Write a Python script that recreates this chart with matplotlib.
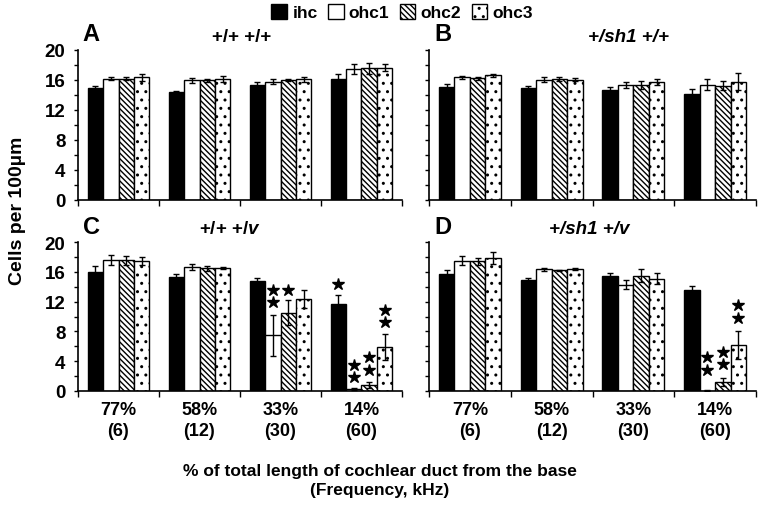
import matplotlib
matplotlib.use("Agg")
import matplotlib.pyplot as plt
from matplotlib.patches import Patch
from matplotlib.ticker import MultipleLocator
import numpy as np

plt.rcParams['font.family'] = ['Liberation Sans', 'DejaVu Sans']
plt.rcParams['font.weight'] = 'bold'
plt.rcParams['hatch.linewidth'] = 1.0
plt.rcParams['mathtext.fontset'] = 'custom'
plt.rcParams['mathtext.it'] = 'Liberation Sans:italic:bold'
plt.rcParams['mathtext.rm'] = 'Liberation Sans:bold'

groups = ['77%\n(6)', '58%\n(12)', '33%\n(30)', '14%\n(60)']
series = ['ihc', 'ohc1', 'ohc2', 'ohc3']

# Panel A  (+/+ +/+)
A_ihc = [15.0, 14.4, 15.3, 16.1];   A_ihc_err = [0.15, 0.2, 0.45, 0.75]
A_ohc1 = [16.2, 15.95, 15.8, 17.5]; A_ohc1_err = [0.25, 0.3, 0.3, 0.7]
A_ohc2 = [16.2, 15.95, 16.0, 17.55]; A_ohc2_err = [0.2, 0.2, 0.15, 0.7]
A_ohc3 = [16.35, 16.1, 16.1, 17.65]; A_ohc3_err = [0.45, 0.4, 0.3, 0.5]

# Panel B  (+/sh1 +/+)
B_ihc = [15.1, 15.0, 14.7, 14.1];   B_ihc_err = [0.35, 0.15, 0.4, 0.75]
B_ohc1 = [16.4, 16.05, 15.35, 15.4]; B_ohc1_err = [0.2, 0.3, 0.4, 0.7]
B_ohc2 = [16.25, 16.1, 15.35, 15.25]; B_ohc2_err = [0.2, 0.25, 0.5, 0.6]
B_ohc3 = [16.6, 16.05, 15.7, 15.8]; B_ohc3_err = [0.2, 0.2, 0.4, 1.2]

# Panel C  (+/+ +/v)
C_ihc = [16.0, 15.35, 14.7, 11.7];  C_ihc_err = [0.8, 0.4, 0.45, 1.2]
C_ohc1 = [17.55, 16.6, 7.45, 0.25]; C_ohc1_err = [0.7, 0.4, 2.7, 0.1]
C_ohc2 = [17.55, 16.45, 10.5, 0.8]; C_ohc2_err = [0.6, 0.3, 1.7, 0.45]
C_ohc3 = [17.45, 16.5, 12.4, 5.9];  C_ohc3_err = [0.5, 0.1, 1.2, 1.75]

# Panel D  (+/sh1 +/v)
D_ihc = [15.75, 14.85, 15.45, 13.55]; D_ihc_err = [0.5, 0.3, 0.35, 0.6]
D_ohc1 = [17.5, 16.35, 14.25, 0.05];  D_ohc1_err = [0.6, 0.2, 0.6, 0.05]
D_ohc2 = [17.4, 16.2, 15.5, 1.25];    D_ohc2_err = [0.5, 0.1, 0.9, 0.55]
D_ohc3 = [17.8, 16.35, 15.1, 6.2];    D_ohc3_err = [0.8, 0.1, 0.7, 1.9]

# significance stars: (series index, group index, star centre values)
C_stars = [(1, 2, [11.9, 13.6]), (2, 2, [13.5]), (0, 3, [14.3]),
           (1, 3, [1.9, 3.5]), (2, 3, [2.8, 4.5]), (3, 3, [9.2, 10.9])]
D_stars = [(1, 3, [2.8, 4.6]), (2, 3, [3.6, 5.3]), (3, 3, [9.8, 11.5])]

panels = [
    dict(letter='A', title='+/+ +/+', style='normal', tx=0.506,
         vals=[A_ihc, A_ohc1, A_ohc2, A_ohc3],
         errs=[A_ihc_err, A_ohc1_err, A_ohc2_err, A_ohc3_err], stars=[]),
    dict(letter='B', title='+/sh1 +/+', style='italic', tx=0.61,
         vals=[B_ihc, B_ohc1, B_ohc2, B_ohc3],
         errs=[B_ihc_err, B_ohc1_err, B_ohc2_err, B_ohc3_err], stars=[]),
    dict(letter='C', title=r'+/+ +/$\it{v}$', style='normal', tx=0.47,
         vals=[C_ihc, C_ohc1, C_ohc2, C_ohc3],
         errs=[C_ihc_err, C_ohc1_err, C_ohc2_err, C_ohc3_err], stars=C_stars),
    dict(letter='D', title='+/sh1 +/v', style='italic', tx=0.49,
         vals=[D_ihc, D_ohc1, D_ohc2, D_ohc3],
         errs=[D_ihc_err, D_ohc1_err, D_ohc2_err, D_ohc3_err], stars=D_stars),
]

W, H = 759, 510
fig = plt.figure(figsize=(W / 100, H / 100), dpi=100)

def rect(x0, x1, ytop, ybot):
    return [x0 / W, 1 - ybot / H, (x1 - x0) / W, (ybot - ytop) / H]

rects = [rect(78, 402, 51, 201), rect(429, 756, 51, 201),
         rect(78, 402, 243, 392), rect(429, 756, 243, 392)]

faces = ['black', 'white', 'white', 'white']
hatches = [None, None, '\\\\\\\\\\\\', '..']
bw = 0.19
offsets = np.array([-1.5, -0.5, 0.5, 1.5]) * bw
x = np.arange(len(groups))

for i, (p, r) in enumerate(zip(panels, rects)):
    ax = fig.add_axes(r)
    for s in range(4):
        ax.bar(x + offsets[s], p['vals'][s], width=bw, color=faces[s],
               edgecolor='black', linewidth=1.0, hatch=hatches[s], zorder=2)
        ax.errorbar(x + offsets[s], p['vals'][s], yerr=p['errs'][s], fmt='none',
                    ecolor='black', elinewidth=1.0, capsize=2.5, capthick=1.0, zorder=3)
    for (s, g, ys) in p['stars']:
        ax.plot([x[g] + offsets[s]] * len(ys), ys, linestyle='none', marker='*',
                markersize=9, color='black', zorder=4, clip_on=False)
    ax.set_xlim(-0.5, 3.5)
    ax.set_ylim(0, 20)
    ax.spines['top'].set_visible(False)
    ax.spines['right'].set_visible(False)
    ax.spines['left'].set_linewidth(1.2)
    ax.spines['bottom'].set_linewidth(1.2)
    ax.yaxis.set_major_locator(MultipleLocator(4))
    ax.yaxis.set_minor_locator(MultipleLocator(2))
    ax.set_xticks(np.arange(-0.5, 4.0, 1.0))
    ax.set_xticklabels([])
    ax.tick_params(axis='x', which='major', direction='out', length=4, width=1)
    ax.tick_params(axis='y', which='both', direction='out', length=3, width=1)
    if i in (0, 2):
        ax.tick_params(axis='y', labelsize=13.5, pad=6)
        for t in ax.get_yticklabels():
            t.set_fontweight('bold')
    else:
        ax.set_yticklabels([])
    if i in (2, 3):
        ax.set_xticks(x, minor=True)
        ax.set_xticklabels(groups, minor=True, fontsize=13, fontweight='bold',
                           linespacing=1.3)
        ax.tick_params(axis='x', which='minor', length=0, pad=7)
    ax.text(0.015, 1.03, p['letter'], transform=ax.transAxes, fontsize=17,
            fontweight='bold', ha='left', va='bottom')
    ax.text(p['tx'], 1.035, p['title'], transform=ax.transAxes, fontsize=13.5,
            fontweight='bold', fontstyle=p['style'], ha='center', va='bottom')

handles = [Patch(facecolor=faces[s], edgecolor='black', hatch=hatches[s], linewidth=1.0)
           for s in range(4)]
fig.legend(handles, series, loc='center', bbox_to_anchor=(0.53, 0.974), ncol=4,
           frameon=False, handlelength=0.9, handleheight=0.9, handletextpad=0.3,
           columnspacing=0.6, prop={'size': 12.5, 'weight': 'bold'})

fig.text(0.023, 0.586, 'Cells per 100\u00b5m', rotation=90, ha='center', va='center',
         fontsize=14, fontweight='bold')
fig.text(0.5, 0.057, '% of total length of cochlear duct from the base\n(Frequency, kHz)',
         ha='center', va='center', fontsize=12.5, fontweight='bold', linespacing=1.4)

fig.savefig('out.png', dpi=100)
